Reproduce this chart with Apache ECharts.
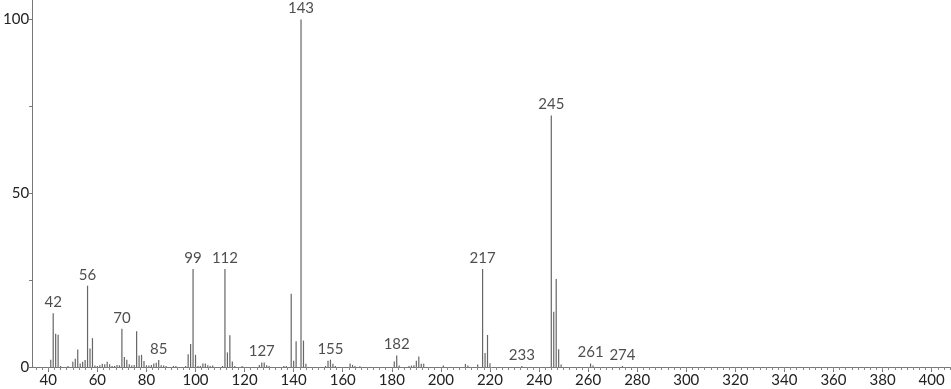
<!DOCTYPE html>
<html>
<head>
<meta charset="utf-8">
<script src="https://cdn.jsdelivr.net/npm/echarts@6/dist/echarts.min.js"></script>
<style>
  html, body { margin: 0; padding: 0; background: #ffffff; }
  #chart { width: 951px; height: 389px; }
</style>
</head>
<body>
<div id="chart"></div>
<script>
// m/z values
const mz = [41,42,43,44,45,48,50,51,52,53,54,55,56,57,58,59,60,61,62,63,64,65,66,67,68,69,
  70,71,72,73,74,75,76,77,78,79,80,81,82,83,84,85,86,87,88,91,92,96,97,98,99,100,101,102,103,
  104,105,106,107,111,112,113,114,115,116,119,126,127,128,129,130,136,137,139,140,141,143,144,
  145,153,154,155,156,157,163,164,165,167,181,182,183,187,188,189,190,191,192,193,201,210,211,
  215,217,218,219,220,233,245,246,247,248,249,261,262,274];
// relative intensities
const intensity = [2.1,15.5,9.6,9.3,0.3,0.3,1.5,2.4,5.0,1.0,1.5,2.0,23.4,5.3,8.3,0.4,0.3,0.5,0.9,0.8,1.5,0.8,0.3,0.3,0.6,0.5,
  11.0,2.9,2.1,0.8,0.4,0.6,10.3,3.3,3.5,1.7,0.5,0.4,0.6,1.0,1.2,2.0,0.5,0.4,0.3,0.3,0.3,0.3,3.7,6.6,28.2,3.5,0.3,0.3,1.0,
  1.0,0.5,0.3,0.4,0.3,28.2,4.2,9.1,1.6,0.3,0.3,0.6,1.3,1.3,0.5,0.3,0.3,0.3,21.1,1.8,7.4,100,7.6,
  0.9,0.3,1.8,2.1,0.9,0.3,1.0,0.6,0.3,0.2,1.6,3.3,0.4,0.3,0.4,0.5,1.8,3.0,0.9,0.9,0.4,0.9,0.4,
  0.7,28.2,4.0,9.2,1.1,0.3,72.4,15.9,25.3,5.1,0.7,1.0,0.4,0.3];
// annotated peaks
const labeledPeaks = [42,56,70,85,99,112,127,143,155,182,217,233,245,261,274];
// axis tick labels
const xTickLabels = [40,60,80,100,120,140,160,180,200,220,240,260,280,300,320,340,360,380,400];
const yTickLabels = [0,50,100];
const yTicks = [0,25,50,75,100];
const xMinorTicks = [];
for (let v = 35; v <= 407.5; v += 2.5) xMinorTicks.push(v);

const peakData = mz.map((m, i) => [m, intensity[i]]);
const labelData = labeledPeaks.map(m => [m, intensity[mz.indexOf(m)]]);

const FONT = 'Lato';
const chart = echarts.init(document.getElementById('chart'), null, { renderer: 'canvas' });
chart.setOption({
  animation: false,
  backgroundColor: '#ffffff',
  grid: { left: 29, right: 0, top: 0, bottom: 22, containLabel: false },
  xAxis: [
    {
      type: 'value', min: 33.4, max: 407.9,
      axisLine: { show: true, lineStyle: { color: '#777', width: 1 } },
      axisTick: { show: true, customValues: xTickLabels, length: 5, lineStyle: { color: '#777' } },
      axisLabel: { customValues: xTickLabels, color: '#222', fontSize: 15, fontFamily: FONT, margin: 6 },
      splitLine: { show: false }
    },
    {
      type: 'value', min: 33.4, max: 407.9, position: 'bottom',
      axisLine: { show: false },
      axisTick: { show: true, customValues: xMinorTicks, length: 3, lineStyle: { color: '#888' } },
      axisLabel: { show: false },
      splitLine: { show: false }
    }
  ],
  yAxis: {
    type: 'value', min: 0, max: 105.6,
    axisLine: { show: true, lineStyle: { color: '#777', width: 1 } },
    axisTick: { show: true, customValues: yTicks, length: 3, lineStyle: { color: '#777' } },
    axisLabel: { customValues: yTickLabels, color: '#222', fontSize: 15, fontFamily: FONT, margin: 3 },
    splitLine: { show: false }
  },
  series: [
    {
      type: 'custom',
      xAxisIndex: 0,
      data: peakData,
      encode: { x: 0, y: 1 },
      renderItem: function (params, api) {
        const p0 = api.coord([api.value(0), 0]);
        const p1 = api.coord([api.value(0), api.value(1)]);
        return {
          type: 'line',
          shape: { x1: p0[0], y1: p0[1], x2: p1[0], y2: p1[1] },
          style: { stroke: '#666', lineWidth: 1.2 }
        };
      }
    },
    {
      type: 'scatter',
      xAxisIndex: 0,
      data: labelData,
      symbol: 'circle',
      symbolSize: 1,
      itemStyle: { color: 'rgba(0,0,0,0)' },
      z: 5,
      label: {
        show: true, position: 'top', distance: 3,
        color: '#222', fontSize: 15, fontFamily: FONT,
        formatter: p => String(p.value[0])
      },
      labelLayout: { hideOverlap: false }
    }
  ]
});
</script>
</body>
</html>
